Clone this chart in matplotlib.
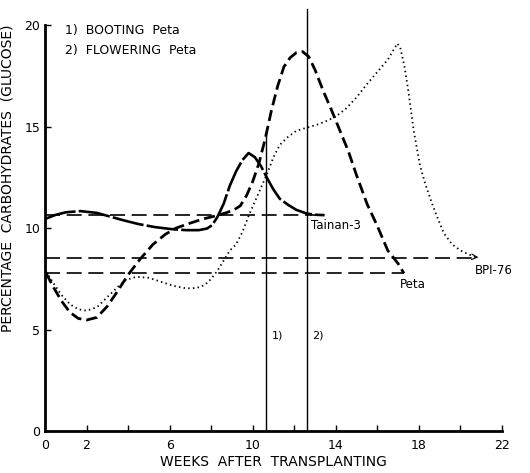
import matplotlib
matplotlib.use("Agg")
import matplotlib.pyplot as plt

# weeks after transplanting / percentage carbohydrates
tainan_w = [0, 0.5, 1, 1.7, 2.5, 3.2, 3.8, 4.5, 5.3, 6.1, 6.8, 7.4, 7.8, 8.05, 8.3, 8.6, 8.9, 9.2,
            9.5, 9.8, 10.1, 10.4, 10.7, 11.0, 11.3, 11.7, 12.1, 12.6, 13.0, 13.46]
tainan_v = [10.45, 10.65, 10.78, 10.84, 10.75, 10.55, 10.38, 10.2, 10.05, 9.95, 9.9, 9.9, 9.98, 10.15,
            10.55, 11.2, 12.1, 12.8, 13.35, 13.7, 13.5, 13.05, 12.45, 11.9, 11.45, 11.15, 10.9, 10.72,
            10.66, 10.64]

peta_w = [0.05, 0.4, 0.8, 1.2, 1.6, 2.0, 2.5, 3.0, 3.5, 4.0, 4.6, 5.2, 5.8, 6.3, 7.0, 7.6, 8.2, 8.7,
          9.1, 9.4, 9.7, 10.0, 10.3, 10.6, 10.9, 11.2, 11.5, 11.8, 12.1, 12.4, 12.7, 13.0, 13.4, 13.8,
          14.2, 14.6, 15.0, 15.5, 16.0, 16.5, 17.0, 17.28]
peta_v = [7.78, 7.1, 6.4, 5.85, 5.55, 5.47, 5.6, 6.15, 6.9, 7.7, 8.5, 9.2, 9.7, 10.0, 10.25, 10.45,
          10.6, 10.75, 10.9, 11.1, 11.6, 12.3, 13.2, 14.4, 15.8, 17.0, 17.95, 18.4, 18.65, 18.7, 18.45,
          17.8, 16.75, 15.8, 14.8, 13.8, 12.6, 11.2, 10.1, 8.9, 8.25, 7.77]

bpi_w = [0.05, 0.4, 0.8, 1.2, 1.6, 2.0, 2.5, 3.0, 3.5, 3.9, 4.4, 5.0, 5.6, 6.2, 6.8, 7.3, 7.7, 8.0,
         8.3, 8.6, 8.9, 9.2, 9.5, 9.8, 10.1, 10.4, 10.7, 11.0, 11.3, 11.7, 12.1, 12.6, 13.1, 13.6,
         14.0, 14.5, 15.0, 15.5, 16.0, 16.5, 16.96, 17.1, 17.3, 17.5, 17.75, 18.05, 18.3, 18.6, 18.9,
         19.2, 19.6, 20.0, 20.4, 20.78]
bpi_v = [7.85, 7.3, 6.7, 6.25, 6.0, 5.93, 6.1, 6.6, 7.1, 7.45, 7.6, 7.55, 7.35, 7.15, 7.03, 7.05, 7.2,
         7.5, 7.9, 8.4, 8.9, 9.2, 9.8, 10.6, 11.3, 12.0, 12.7, 13.5, 14.1, 14.5, 14.8, 14.95, 15.1,
         15.3, 15.5, 15.9, 16.45, 17.1, 17.7, 18.3, 19.1, 18.9, 18.0, 16.7, 14.8, 13.1, 12.2, 11.3,
         10.5, 9.75, 9.2, 8.9, 8.7, 8.55]

# mean levels (horizontal dashed lines): value, end week
means = {"Tainan-3": (10.64, 13.46), "BPI-76": (8.55, 20.78), "Peta": (7.77, 17.28)}

booting_week = 10.65
flowering_week = 12.63

fig = plt.figure(figsize=(5.3, 4.73), dpi=100)
ax = fig.add_axes([45 / 530, 1 - 431 / 473, 457 / 530, 424 / 473])
ax.set_xlim(0, 22)
ax.set_ylim(0, 20.9)

ax.plot(tainan_w, tainan_v, color="black", lw=1.9, ls=(0, (12, 1.2)))
ax.plot(peta_w, peta_v, color="black", lw=2.0, ls=(0, (4, 1.8)))
ax.plot(bpi_w, bpi_v, color="black", lw=1.3, ls=(0, (0.8, 1.8)))
ax.annotate("", xy=(21.0, 8.55), xytext=(20.6, 8.58),
            arrowprops=dict(arrowstyle="->", color="black", lw=0.8))

for name, (val, end) in means.items():
    ax.plot([0, end], [val, val], color="black", lw=1.2, ls=(0, (9, 4)))

ax.plot([booting_week, booting_week], [0, 14.75], color="black", lw=1.0)
ax.plot([flowering_week, flowering_week], [0, 20.8], color="black", lw=1.0)
ax.text(booting_week + 0.25, 4.7, "1)", fontsize=8, va="center")
ax.text(flowering_week + 0.25, 4.7, "2)", fontsize=8, va="center")

ax.text(12.8, 10.15, "Tainan-3", fontsize=8.5, va="center")
ax.text(17.1, 7.2, "Peta", fontsize=8.5, va="center")
ax.text(20.7, 7.93, "BPI-76", fontsize=8.5, va="center", clip_on=False)

ax.text(0.95, 19.75, "1)  BOOTING  Peta", fontsize=9, va="center")
ax.text(0.95, 18.75, "2)  FLOWERING  Peta", fontsize=9, va="center")

ax.spines["top"].set_visible(False)
ax.spines["right"].set_visible(False)
ax.spines["left"].set_linewidth(2)
ax.spines["bottom"].set_linewidth(2)
ax.spines["left"].set_bounds(0, 20)

ax.set_xticks([0, 2, 6, 10, 14, 18, 22])
ax.set_xticks([4, 8, 12, 16, 20], minor=True)
ax.set_yticks([0, 5, 10, 15, 20])
ax.tick_params(which="both", direction="in", length=4, width=1, labelsize=9)
ax.tick_params(axis="x", pad=6)

ax.set_xlabel("WEEKS  AFTER  TRANSPLANTING", fontsize=10, labelpad=2)
ax.set_ylabel("PERCENTAGE  CARBOHYDRATES  (GLUCOSE)", fontsize=10)
ax.yaxis.set_label_coords(-0.066, 0.597)

fig.savefig("out.png", dpi=100)
